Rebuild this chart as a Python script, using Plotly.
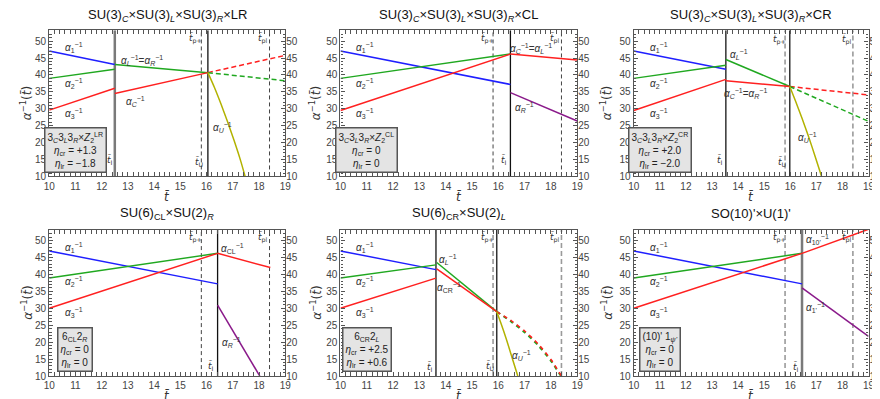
import plotly.graph_objects as go

# ---------------- data ----------------
X_RANGE = [10, 19]
Y_RANGE = [10, 53.2]
X_TICKS = [10, 11, 12, 13, 14, 15, 16, 17, 18, 19]
Y_TICKS = [10, 15, 20, 25, 30, 35, 40, 45, 50]
T_P_PLUS = 15.8
T_P_L = 18.4

# Panel 1: SU(3)C x SU(3)L x SU(3)R x LR
p1_t_low = [10, 12.5]
p1_a1 = [47.1, 43.1]
p1_a2 = [39.0, 41.7]
p1_a3 = [29.6, 36.1]
p1_t_mid = [12.5, 16.05]
p1_aLR = [43.1, 40.7]
p1_aC = [34.5, 40.7]
p1_t_high = [16.05, 19]
p1_aC_dash = [40.7, 45.8]
p1_aLR_dash = [40.7, 38.3]
p1_tU = [16.05, 16.3, 16.55, 16.8, 17.05, 17.3, 17.47]
p1_aU = [40.7, 36.3, 31.4, 26.2, 20.6, 14.6, 10.0]
p1_tI, p1_tUni = 12.5, 16.05

# Panel 2: SU(3)C x SU(3)L x SU(3)R x CL
p2_t_low = [10, 16.46]
p2_a1 = [47.1, 37.2]
p2_a2 = [39.0, 46.2]
p2_a3 = [29.5, 46.2]
p2_t_high = [16.46, 19]
p2_aCL = [46.2, 44.4]
p2_aR = [34.8, 26.4]
p2_tI = 16.46

# Panel 3: SU(3)C x SU(3)L x SU(3)R x CR
p3_t_low = [10, 13.53]
p3_a1 = [47.1, 41.7]
p3_a2 = [39.0, 42.9]
p3_a3 = [29.5, 38.7]
p3_t_mid = [13.53, 15.98]
p3_aL = [44.6, 36.6]
p3_aCR = [38.3, 36.6]
p3_t_high = [15.98, 19]
p3_aCR_dash = [36.6, 34.1]
p3_aL_dash = [36.6, 26.3]
p3_tU = [15.98, 16.2, 16.45, 16.7, 16.95, 17.2]
p3_aU = [36.6, 32.3, 27.2, 21.8, 16.0, 10.0]
p3_tI, p3_tUni = 13.53, 15.98

# Panel 4: SU(6)CL x SU(2)R
p4_t_low = [10, 16.42]
p4_a1 = [46.9, 37.2]
p4_a2 = [38.9, 46.2]
p4_a3 = [30.0, 46.2]
p4_t_CL = [16.42, 18.43]
p4_aCL = [46.2, 42.0]
p4_t_R = [16.42, 18.03]
p4_aR = [30.9, 10.0]
p4_tI = 16.42

# Panel 5: SU(6)CR x SU(2)L
p5_t_low = [10, 13.63]
p5_a1 = [46.9, 41.4]
p5_a2 = [38.9, 42.8]
p5_a3 = [30.0, 38.9]
p5_t_mid = [13.66, 15.94]
p5_aL = [43.5, 29.0]
p5_aCR = [41.6, 29.0]
p5_t_dash = [15.94, 16.5, 17.0, 17.5, 18.0, 18.4]
p5_aCR_dash = [29.0, 26.3, 23.3, 19.6, 14.9, 10.0]
p5_aL_dash = [29.0, 26.0, 22.9, 19.2, 14.5, 9.8]
p5_tU = [15.94, 16.1, 16.3, 16.5, 16.74]
p5_aU = [29.0, 25.6, 21.0, 16.0, 10.0]
p5_tI, p5_tUni = 13.63, 15.94

# Panel 6: SO(10)' x U(1)'
p6_t_low = [10, 16.45]
p6_a1 = [46.9, 37.2]
p6_a2 = [38.9, 46.2]
p6_a3 = [30.0, 46.2]
p6_t_high = [16.45, 19]
p6_a10 = [46.2, 53.3]
p6_a1p = [36.0, 21.7]
p6_tI = 16.45

TITLES = [
    "SU(3)<sub><i>C</i></sub>×SU(3)<sub><i>L</i></sub>×SU(3)<sub><i>R</i></sub>×LR",
    "SU(3)<sub><i>C</i></sub>×SU(3)<sub><i>L</i></sub>×SU(3)<sub><i>R</i></sub>×CL",
    "SU(3)<sub><i>C</i></sub>×SU(3)<sub><i>L</i></sub>×SU(3)<sub><i>R</i></sub>×CR",
    "SU(6)<sub>CL</sub>×SU(2)<sub><i>R</i></sub>",
    "SU(6)<sub>CR</sub>×SU(2)<sub><i>L</i></sub>",
    "SO(10)'×U(1)'",
]
BOX_HEAD = [
    "3<sub><i>C</i></sub>3<sub><i>L</i></sub>3<sub><i>R</i></sub>×<i>Z</i><sub>2</sub><sup>LR</sup>",
    "3<sub><i>C</i></sub>3<sub><i>L</i></sub>3<sub><i>R</i></sub>×<i>Z</i><sub>2</sub><sup>CL</sup>",
    "3<sub><i>C</i></sub>3<sub><i>L</i></sub>3<sub><i>R</i></sub>×<i>Z</i><sub>2</sub><sup>CR</sup>",
    "6<sub>CL</sub>2<sub><i>R</i></sub>",
    "6<sub>CR</sub>2<sub><i>L</i></sub>",
    "(10)' 1<sub><i>ψ'</i></sub>",
]
ETA_CR = ["+1.3", "0", "+2.0", "0", "+2.5", "0"]
ETA_LR = ["−1.8", "0", "−2.0", "0", "+0.6", "0"]

# ---------------- style ----------------
BLUE = "#1f1fff"
GREEN = "#20a820"
RED = "#ff2020"
PURPLE = "#8a1a8a"
OLIVE = "#b2b200"
FONT = "Liberation Sans, Arial, sans-serif"
TFONT = "DejaVu Sans, sans-serif"
TXT = "#333333"

XDOM = [(0.0406, 0.3125), (0.3761, 0.6489), (0.714, 0.9845)]
YDOM = [(0.5714, 0.9431), (0.0634, 0.4361)]

fig = go.Figure()


def ax(i):
    return ("x" if i == 0 else f"x{i+1}"), ("y" if i == 0 else f"y{i+1}")


def line(i, xs, ys, color, dash="solid", width=1.5):
    xa, ya = ax(i)
    fig.add_trace(go.Scatter(x=xs, y=ys, mode="lines", xaxis=xa, yaxis=ya,
                             line=dict(color=color, width=width, dash=dash, shape="spline", smoothing=0.6),
                             showlegend=False, hoverinfo="skip"))


def vline(i, x, color, width, dash="solid"):
    xa, ya = ax(i)
    fig.add_trace(go.Scatter(x=[x, x], y=Y_RANGE, mode="lines", xaxis=xa, yaxis=ya,
                             line=dict(color=color, width=width, dash=dash),
                             showlegend=False, hoverinfo="skip"))


def label(i, x, y, text, size=10, family=FONT):
    xa, ya = ax(i)
    fig.add_annotation(x=x, y=y, xref=xa, yref=ya, text=text, showarrow=False,
                       font=dict(family=family, size=size, color=TXT))


def tlabel(i, x, y, sub):
    label(i, x, y, "<i>t̄</i><sub>" + sub + "</sub>", 9, TFONT)


def alpha(sub):
    return f"<i>α</i><sub>{sub}</sub><sup>−1</sup>"


TB = "<i>t̄</i>"

# common vertical lines (dashed proton-decay bounds)
dark_dash = [0, 1, 3]
for i in range(6):
    if i in dark_dash:
        vline(i, T_P_PLUS, "#444444", 1, "4px,3px")
        vline(i, T_P_L, "#444444", 1, "4px,3px")
    else:
        vline(i, T_P_PLUS, "#9a9a9a", 1.6, "5px,3px")
        vline(i, T_P_L, "#9a9a9a", 1.6, "5px,3px")

# Panel 1
vline(0, p1_tI, "#7a7a7a", 2.5)
vline(0, p1_tUni, "#111111", 1.3)
line(0, p1_t_low, p1_a1, BLUE)
line(0, p1_t_low, p1_a2, GREEN)
line(0, p1_t_low, p1_a3, RED)
line(0, p1_t_mid, p1_aLR, GREEN)
line(0, p1_t_mid, p1_aC, RED)
line(0, p1_t_high, p1_aC_dash, RED, "5px,3px")
line(0, p1_t_high, p1_aLR_dash, GREEN, "5px,3px")
line(0, p1_tU, p1_aU, OLIVE)
label(0, 10.95, 48.0, alpha("1"))
label(0, 10.95, 37.6, alpha("2"))
label(0, 10.95, 28.6, alpha("3"))
label(0, 13.55, 44.4, alpha("<i>L</i>") + "=" + alpha("<i>R</i>"))
label(0, 13.3, 32.2, alpha("<i>C</i>"))
label(0, 16.6, 24.5, alpha("<i>U</i>"))
tlabel(0, 12.3, 15.0, "I")
tlabel(0, 15.72, 14.4, "U")
tlabel(0, 15.58, 50.8, "p+")
tlabel(0, 18.15, 50.8, "pl")

# Panel 2
vline(1, p2_tI, "#111111", 1.3)
line(1, p2_t_low, p2_a1, BLUE)
line(1, p2_t_low, p2_a2, GREEN)
line(1, p2_t_low, p2_a3, RED)
line(1, p2_t_high, p2_aCL, RED)
line(1, p2_t_high, p2_aR, PURPLE)
label(1, 10.95, 48.0, alpha("1"))
label(1, 10.95, 37.6, alpha("2"))
label(1, 10.95, 28.6, alpha("3"))
label(1, 17.25, 47.8, alpha("<i>C</i>") + "=" + alpha("<i>L</i>"))
label(1, 17.0, 30.4, alpha("<i>R</i>"))
tlabel(1, 16.2, 15.0, "I")
tlabel(1, 15.58, 50.8, "p+")
tlabel(1, 18.15, 50.8, "pl")

# Panel 3
vline(2, p3_tI, "#333333", 1.5)
vline(2, p3_tUni, "#333333", 1.5)
line(2, p3_t_low, p3_a1, BLUE)
line(2, p3_t_low, p3_a2, GREEN)
line(2, p3_t_low, p3_a3, RED)
line(2, p3_t_mid, p3_aL, GREEN)
line(2, p3_t_mid, p3_aCR, RED)
line(2, p3_t_high, p3_aCR_dash, RED, "5px,3px")
line(2, p3_t_high, p3_aL_dash, GREEN, "5px,3px")
line(2, p3_tU, p3_aU, OLIVE)
label(2, 10.95, 48.0, alpha("1"))
label(2, 10.95, 37.6, alpha("2"))
label(2, 10.95, 28.6, alpha("3"))
label(2, 14.05, 46.0, alpha("<i>L</i>"))
label(2, 14.3, 34.4, alpha("<i>C</i>") + "=" + alpha("<i>R</i>"))
label(2, 16.65, 21.6, alpha("<i>U</i>"))
tlabel(2, 13.3, 15.0, "I")
tlabel(2, 15.72, 14.2, "U")
tlabel(2, 15.58, 50.6, "p+")
tlabel(2, 18.18, 50.6, "pl")

# Panel 4
vline(3, p4_tI, "#111111", 1.3)
line(3, p4_t_low, p4_a1, BLUE)
line(3, p4_t_low, p4_a2, GREEN)
line(3, p4_t_low, p4_a3, RED)
line(3, p4_t_CL, p4_aCL, RED)
line(3, p4_t_R, p4_aR, PURPLE)
label(3, 10.95, 48.0, alpha("1"))
label(3, 10.95, 37.8, alpha("2"))
label(3, 10.95, 28.8, alpha("3"))
label(3, 17.0, 47.6, alpha("CL"))
label(3, 16.95, 20.0, alpha("<i>R</i>"))
tlabel(3, 16.15, 13.0, "I")
tlabel(3, 15.58, 51.0, "p+")
tlabel(3, 18.15, 51.0, "pl")

# Panel 5
vline(4, p5_tI, "#333333", 1.5)
vline(4, p5_tUni, "#333333", 1.5)
line(4, p5_t_low, p5_a1, BLUE)
line(4, p5_t_low, p5_a2, GREEN)
line(4, p5_t_low, p5_a3, RED)
line(4, p5_t_mid, p5_aL, GREEN)
line(4, p5_t_mid, p5_aCR, RED)
line(4, p5_t_dash, p5_aL_dash, GREEN, "4px,4px", 2)
line(4, p5_t_dash, p5_aCR_dash, RED, "4px,4px", 1.6)
line(4, p5_tU, p5_aU, OLIVE)
label(4, 10.95, 48.0, alpha("1"))
label(4, 10.95, 37.8, alpha("2"))
label(4, 10.95, 28.8, alpha("3"))
label(4, 14.1, 44.3, alpha("<i>L</i>"))
label(4, 14.12, 36.0, alpha("CR"))
label(4, 16.9, 16.2, alpha("<i>U</i>"))
tlabel(4, 13.42, 12.8, "I")
tlabel(4, 15.72, 13.0, "U")
tlabel(4, 15.58, 51.0, "p+")
tlabel(4, 18.15, 51.0, "pl")

# Panel 6
vline(5, p6_tI, "#7a7a7a", 2.5)
line(5, p6_t_low, p6_a1, BLUE)
line(5, p6_t_low, p6_a2, GREEN)
line(5, p6_t_low, p6_a3, RED)
line(5, p6_t_high, p6_a10, RED)
line(5, p6_t_high, p6_a1p, PURPLE)
label(5, 10.95, 48.0, alpha("1"))
label(5, 10.95, 37.8, alpha("2"))
label(5, 10.95, 28.8, alpha("3"))
label(5, 17.05, 50.4, alpha("10'"))
label(5, 16.98, 30.2, alpha("1'"))
tlabel(5, 16.22, 12.8, "I")
tlabel(5, 15.58, 51.0, "p+")
tlabel(5, 18.18, 51.0, "pl")

# info boxes
for i in range(6):
    xa, ya = ax(i)
    fig.add_annotation(x=11.0, y=17.9, xref=xa, yref=ya, showarrow=False,
                       text=f"{BOX_HEAD[i]}<br><i>η</i><sub>cr</sub> = {ETA_CR[i]}<br><i>η</i><sub>lr</sub> = {ETA_LR[i]}",
                       font=dict(family=FONT, size=10, color="#222"),
                       bgcolor="#e4e4e4", bordercolor="#555555", borderwidth=1.5, borderpad=2, align="center")

# axes
tickfont = dict(family=FONT, size=10, color="#444")
layout = {}
for i in range(6):
    r, c = divmod(i, 3)
    sx = "" if i == 0 else str(i + 1)
    layout[f"xaxis{sx}"] = dict(domain=list(XDOM[c]), range=X_RANGE, anchor=f"y{sx}",
                                tickmode="array", tickvals=X_TICKS,
                                showline=True, linecolor="#555", linewidth=1.2, mirror="allticks",
                                ticks="inside", ticklen=4, tickcolor="#555",
                                minor=dict(dtick=0.2, tick0=10, ticks="inside", ticklen=2.5, tickcolor="#555"),
                                showgrid=False, zeroline=False, tickfont=tickfont, fixedrange=True)
    layout[f"yaxis{sx}"] = dict(domain=list(YDOM[r]), range=Y_RANGE, anchor=f"x{sx}",
                                tickmode="array", tickvals=Y_TICKS,
                                showline=True, linecolor="#555", linewidth=1.2, mirror="allticks",
                                ticks="inside", ticklen=4, tickcolor="#555",
                                minor=dict(dtick=1, tick0=10, ticks="inside", ticklen=2.5, tickcolor="#555"),
                                showgrid=False, zeroline=False, tickfont=tickfont, fixedrange=True)
    ry = i + 7
    layout[f"yaxis{ry}"] = dict(overlaying=f"y{sx}", side="right", anchor=f"x{sx}", range=Y_RANGE,
                                tickmode="array", tickvals=Y_TICKS, ticks="", showline=False,
                                ticklabelstandoff=0,
                                showgrid=False, zeroline=False, tickfont=tickfont, fixedrange=True)
    fig.add_trace(go.Scatter(x=[None], y=[None], xaxis=f"x{sx}", yaxis=f"y{ry}", showlegend=False,
                             hoverinfo="skip"))

    # titles
    xc = (XDOM[c][0] + XDOM[c][1]) / 2
    ty = 1 - 8 / 399 if r == 0 else 1 - 209 / 399
    fig.add_annotation(x=xc, y=ty, xref="paper", yref="paper", text=TITLES[i], showarrow=False,
                       font=dict(family=FONT, size=13, color="#111"), xanchor="center", yanchor="middle")
    xt = 1 - 183 / 399 if r == 0 else 1 - 385 / 399
    fig.add_annotation(x=xc, y=xt, xref="paper", yref="paper", text=TB, showarrow=False,
                       font=dict(family=TFONT, size=12, color="#333"), xanchor="center", yanchor="top")
    yc = (YDOM[r][0] + YDOM[r][1]) / 2
    yx = [13, 306, 601][c] / 880
    fig.add_annotation(x=yx, y=yc, xref="paper", yref="paper", text="<i>α</i><sup>−1</sup>(" + TB + ")",
                       showarrow=False, textangle=-90,
                       font=dict(family=TFONT, size=12, color="#333"), xanchor="center", yanchor="middle")

fig.update_layout(width=880, height=399, margin=dict(l=0, r=0, t=0, b=0),
                  plot_bgcolor="white", paper_bgcolor="white", showlegend=False, **layout)

fig.write_html("out.html")
